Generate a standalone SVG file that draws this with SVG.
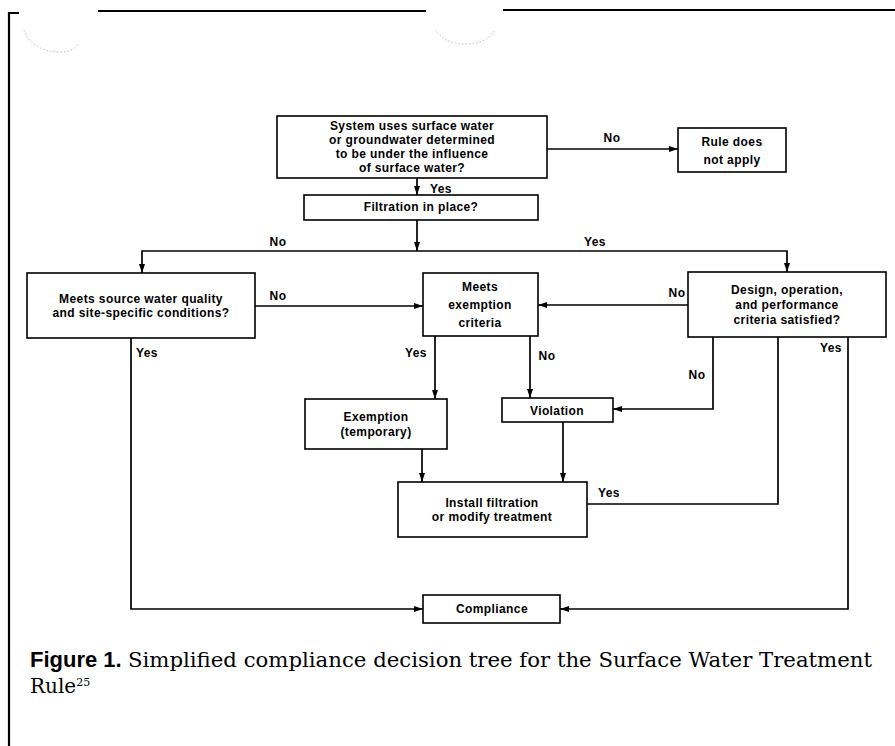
<svg xmlns="http://www.w3.org/2000/svg" width="895" height="746" viewBox="0 0 895 746">
<defs>
<marker id="ah" markerWidth="10" markerHeight="8" refX="9" refY="4" orient="auto" markerUnits="userSpaceOnUse">
<path d="M0,1 L9,4 L0,7 Z" fill="#000"/>
</marker>
<style>
.box{fill:#fff;stroke:#000;stroke-width:1.6}
.t{font-family:"Liberation Sans",Arial,sans-serif;font-weight:bold;font-size:12px;letter-spacing:0.4px;fill:#000;text-anchor:middle}
.lbl{font-family:"Liberation Sans",Arial,sans-serif;font-weight:bold;font-size:12px;letter-spacing:0.4px;fill:#000;text-anchor:middle}
.c{fill:none;stroke:#000;stroke-width:1.7}
.ca{fill:none;stroke:#000;stroke-width:1.7;marker-end:url(#ah)}
.frame{fill:none;stroke:#000;stroke-width:2.2}
.faint{fill:none;stroke:#bbb;stroke-width:1;stroke-dasharray:1.5 2}
.cap{font-family:"DejaVu Serif","Liberation Serif",serif;font-size:20px;fill:#000}
.sup{font-family:"DejaVu Serif","Liberation Serif",serif;font-size:11px;fill:#000}
.capb{font-family:"Liberation Sans",Arial,sans-serif;font-weight:bold;font-size:22px;fill:#000}
</style>
</defs>
<rect width="895" height="746" fill="#fff"/>
<g id="frame">
<path class="frame" d="M9,746 V13 H19"/>
<path class="frame" d="M98,11 H426"/>
<path class="frame" d="M503,10 H895"/>
<path class="faint" d="M24,30 Q32,52 62,52 Q72,52 78,44"/>
<path class="faint" d="M435,30 Q445,44 465,44 Q487,44 495,30"/>
</g>
<g id="connectors">
<path class="ca" d="M417,178 V195"/>
<path class="ca" d="M547,149 H678"/>
<path class="ca" d="M417,220 V251"/>
<path class="ca" d="M417,251 H142 V273"/>
<path class="ca" d="M417,251 H787 V272"/>
<path class="ca" d="M255,306 H423"/>
<path class="ca" d="M688,305 H538"/>
<path class="ca" d="M435,336 V399"/>
<path class="ca" d="M530,336 V398"/>
<path class="ca" d="M713,337 V409 H613"/>
<path class="c" d="M778,337 V504 H587"/>
<path class="ca" d="M422,449 V482"/>
<path class="ca" d="M563,422 V482"/>
<path class="ca" d="M131,338 V609 H423"/>
<path class="ca" d="M848,337 V609 H560"/>
<text class="lbl" x="612" y="142">No</text>
<text class="lbl" x="441" y="193">Yes</text>
<text class="lbl" x="278" y="246">No</text>
<text class="lbl" x="595" y="246">Yes</text>
<text class="lbl" x="278" y="300">No</text>
<text class="lbl" x="677" y="297">No</text>
<text class="lbl" x="147" y="357">Yes</text>
<text class="lbl" x="416" y="357">Yes</text>
<text class="lbl" x="547" y="360">No</text>
<text class="lbl" x="831" y="352">Yes</text>
<text class="lbl" x="697" y="379">No</text>
<text class="lbl" x="609" y="497">Yes</text>
</g>
<g id="n-start">
<rect class="box" x="277" y="116" width="270" height="62"/>
<text class="t" x="412" y="130">System uses surface water</text>
<text class="t" x="412" y="144">or groundwater determined</text>
<text class="t" x="412" y="158">to be under the influence</text>
<text class="t" x="412" y="172">of surface water?</text>
</g>
<g id="n-rule">
<rect class="box" x="678" y="128" width="108" height="44"/>
<text class="t" x="732" y="146">Rule does</text>
<text class="t" x="732" y="164">not apply</text>
</g>
<g id="n-filtration">
<rect class="box" x="304" y="195" width="234" height="25"/>
<text class="t" x="421" y="211">Filtration in place?</text>
</g>
<g id="n-source">
<rect class="box" x="27" y="273" width="228" height="65"/>
<text class="t" x="141" y="303">Meets source water quality</text>
<text class="t" x="141" y="317">and site-specific conditions?</text>
</g>
<g id="n-criteria">
<rect class="box" x="423" y="273" width="115" height="63"/>
<text class="t" x="480" y="291">Meets</text>
<text class="t" x="480" y="309">exemption</text>
<text class="t" x="480" y="327">criteria</text>
</g>
<g id="n-design">
<rect class="box" x="688" y="272" width="198" height="65"/>
<text class="t" x="787" y="294">Design, operation,</text>
<text class="t" x="787" y="309">and performance</text>
<text class="t" x="787" y="324">criteria satisfied?</text>
</g>
<g id="n-exemption">
<rect class="box" x="305" y="399" width="142" height="50"/>
<text class="t" x="376" y="421">Exemption</text>
<text class="t" x="376" y="436">(temporary)</text>
</g>
<g id="n-violation">
<rect class="box" x="502" y="398" width="111" height="24"/>
<text class="t" x="557" y="415">Violation</text>
</g>
<g id="n-install">
<rect class="box" x="398" y="482" width="189" height="55"/>
<text class="t" x="492" y="507">Install filtration</text>
<text class="t" x="492" y="521">or modify treatment</text>
</g>
<g id="n-compliance">
<rect class="box" x="423" y="595" width="137" height="28"/>
<text class="t" x="492" y="613">Compliance</text>
</g>
<g id="caption">
<text x="30" y="667"><tspan class="capb">Figure 1.</tspan><tspan class="cap" x="128" textLength="744" lengthAdjust="spacingAndGlyphs">Simplified compliance decision tree for the Surface Water Treatment</tspan></text>
<text x="30" y="693"><tspan class="cap">Rule</tspan><tspan class="sup" dy="-7">25</tspan></text>
</g>
</svg>
